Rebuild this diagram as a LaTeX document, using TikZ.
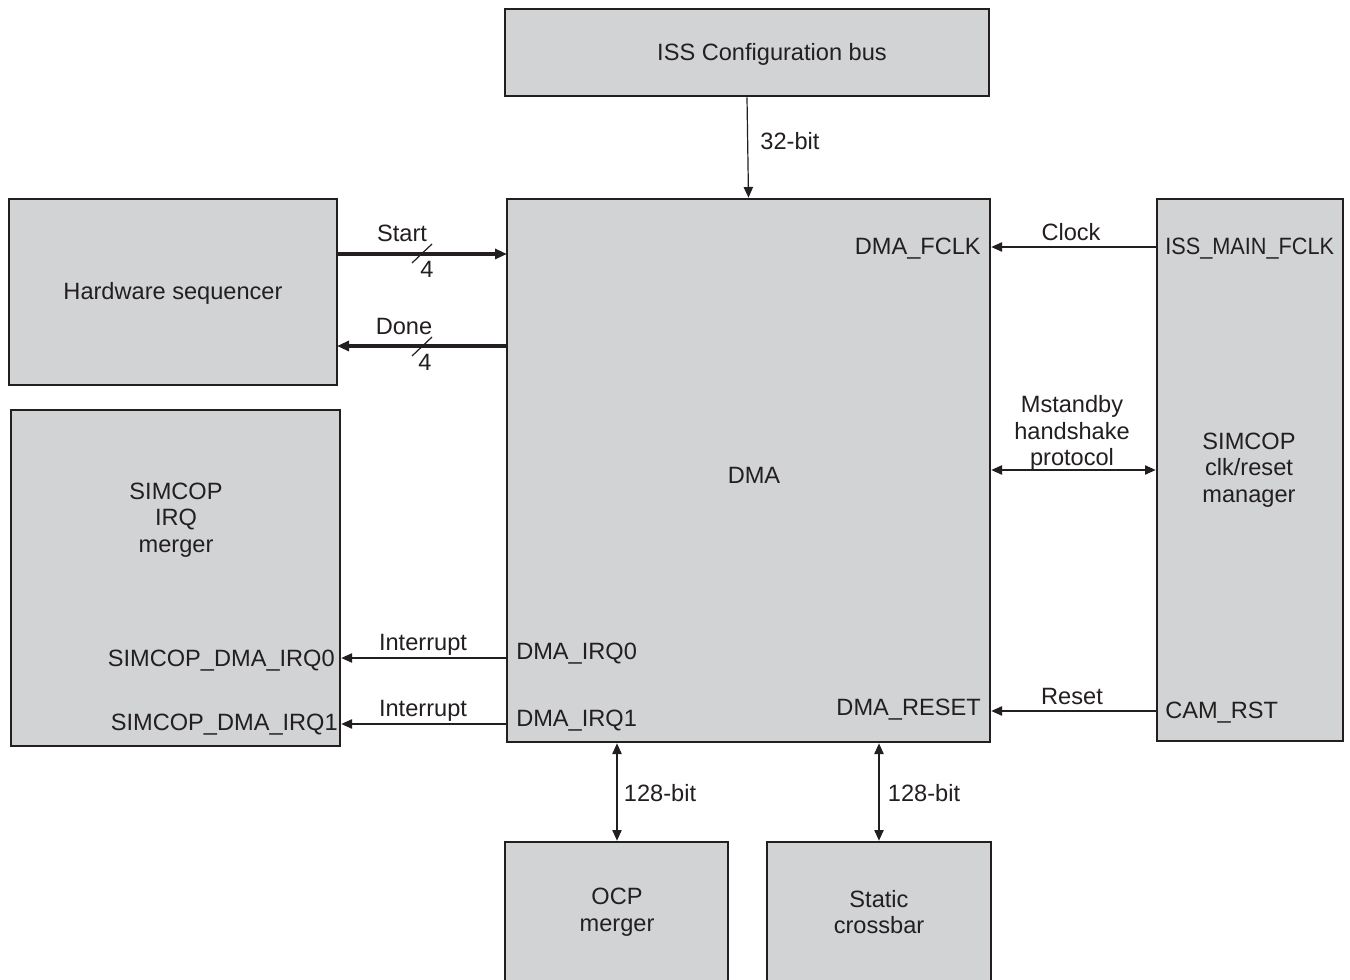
\documentclass[tikz,border=0pt]{standalone}
\usepackage{fontspec}
\setmainfont{Liberation Sans}
\usetikzlibrary{arrows.meta,fit}
\definecolor{boxfill}{HTML}{D1D3D4}
\definecolor{ink}{HTML}{231F20}
\begin{document}
\begin{tikzpicture}[x=0.75pt,y=-0.75pt,
  box/.style={draw=ink,fill=boxfill,line width=2pt,inner sep=0pt},
  txt/.style={inner sep=0pt,font=\fontsize{17.7}{19.9}\selectfont,text=ink,align=center},
  conn/.style={draw=ink,line width=0.9pt,-{Triangle[length=8pt,width=7pt]}},
  dconn/.style={draw=ink,line width=0.9pt,{Triangle[length=8pt,width=7pt]}-{Triangle[length=8pt,width=7pt]}},
  bus/.style={draw=ink,line width=2.6pt,-{Triangle[length=9pt,width=7.5pt]}},
  slashmark/.style={draw=ink,line width=0.9pt}]
\useasboundingbox (0,0) rectangle (1350,980);
\fill[white] (0,0) rectangle (1350,980);

% boxes
\node[box,fit={(505,9) (989,96)}] (iss) {};
\node[box,fit={(507,199) (990,742)}] (dma) {};
\node[box,fit={(9,199) (337,385)}] (hw) {};
\node[box,fit={(11,410) (340,746)}] (irq) {};
\node[box,fit={(1157,199) (1343,741)}] (clk) {};
\node[box,fit={(505,842) (728,990)}] (ocp) {};
\node[box,fit={(767,842) (991,990)}] (xbar) {};

% box texts
\node[txt] (isst) at (772,54) {ISS Configuration bus};
\node[txt] (dmat) at (754,475) {DMA};
\node[txt] (hwt) at (173,293) {Hardware sequencer};
\node[txt] (irqt) at (176,520) {SIMCOP\\IRQ\\merger};
\node[txt] (clkt) at (1249,470) {SIMCOP\\clk/reset\\manager};
\node[txt] (ocpt) at (617,912) {OCP\\merger};
\node[txt] (xbart) at (879,912) {Static\\crossbar};

% port labels
\node[txt,anchor=mid east] (pfclk) at (981,251) {DMA\_FCLK};
\node[txt,anchor=mid west] (pmain) at (1165,251) {\scalebox{0.92}[1]{ISS\_MAIN\_FCLK}};
\node[txt,anchor=mid east] (preset) at (981,712) {DMA\_RESET};
\node[txt,anchor=mid west] (pcam) at (1165,715) {CAM\_RST};
\node[txt,anchor=mid west] (pirq0) at (516,656) {DMA\_IRQ0};
\node[txt,anchor=mid west] (pirq1) at (516,723) {DMA\_IRQ1};
\node[txt,anchor=mid east] (psirq0) at (335,663) {SIMCOP\_DMA\_IRQ0};
\node[txt,anchor=mid east] (psirq1) at (338,727) {SIMCOP\_DMA\_IRQ1};

% level coordinates
\coordinate (ystart) at (0,254);
\coordinate (ydone) at (0,346);
\coordinate (yclock) at (0,247);
\coordinate (ymst) at (0,470);
\coordinate (yreset) at (0,711);
\coordinate (yint0) at (0,658);
\coordinate (yint1) at (0,724);
\coordinate (xocp) at (617,0);
\coordinate (xbus) at (879,0);

% connectors
\draw[conn] (iss.south) -- (dma.north);
\node[txt] (l32) at (790,141) {32-bit};

\draw[bus] (hw.east |- ystart) -- ([xshift=1pt]dma.west |- ystart);
\node[txt,anchor=mid] (lstart) at (402,238) {Start};
\draw[slashmark] (412,263) -- (432,244);
\node[txt,anchor=mid] (lstart4) at (427,274) {4};

\draw[bus] (dma.west |- ydone) -- ([xshift=-1pt]hw.east |- ydone);
\node[txt,anchor=mid] (ldone) at (404,331) {Done};
\draw[slashmark] (412,356) -- (432,337);
\node[txt,anchor=mid] (ldone4) at (425,367) {4};

\draw[conn] (clk.west |- yclock) -- (dma.east |- yclock);
\node[txt,anchor=mid] (lclock) at (1071,237) {Clock};

\draw[dconn] (dma.east |- ymst) -- (clk.west |- ymst);
\node[txt] (lmst) at (1072,433) {Mstandby\\handshake\\protocol};

\draw[conn] (clk.west |- yreset) -- (dma.east |- yreset);
\node[txt,anchor=mid] (lreset) at (1072,701) {Reset};

\draw[conn] (dma.west |- yint0) -- (irq.east |- yint0);
\node[txt,anchor=mid] (lint0) at (423,647) {Interrupt};

\draw[conn] (dma.west |- yint1) -- (irq.east |- yint1);
\node[txt,anchor=mid] (lint1) at (423,713) {Interrupt};

\draw[dconn] (dma.south -| xocp) -- (ocp.north -| xocp);
\node[txt,anchor=mid] (l128a) at (660,798) {128-bit};

\draw[dconn] (dma.south -| xbus) -- (xbar.north -| xbus);
\node[txt,anchor=mid] (l128b) at (924,798) {128-bit};
\end{tikzpicture}
\end{document}
